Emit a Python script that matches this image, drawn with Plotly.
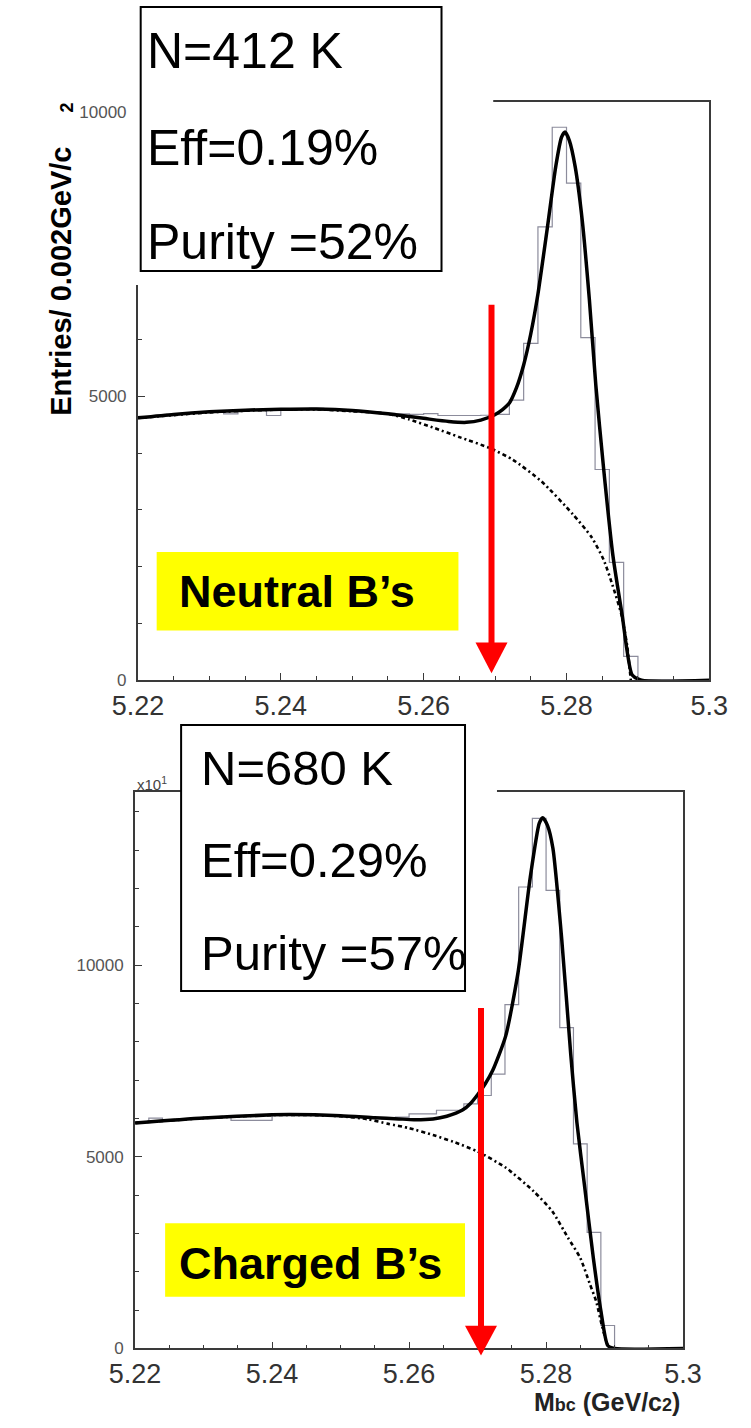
import plotly.graph_objects as go

# ---------------------------------------------------------------- data
# Mbc bin edges (GeV/c^2), 2 MeV bins
MBC_BIN_EDGES = [5.220, 5.222, 5.224, 5.226, 5.228, 5.230, 5.232, 5.234, 5.236, 5.238,
                 5.240, 5.242, 5.244, 5.246, 5.248, 5.250, 5.252, 5.254, 5.256, 5.258,
                 5.260, 5.262, 5.264, 5.266, 5.268, 5.270, 5.272, 5.274, 5.276, 5.278,
                 5.280, 5.282, 5.284, 5.286, 5.288, 5.290, 5.292, 5.294, 5.296, 5.298,
                 5.300]

# entries per bin
NEUTRAL_COUNTS = [4640, 4660, 4680, 4700, 4710, 4730, 4690, 4740, 4750, 4660,
                  4770, 4780, 4785, 4770, 4760, 4740, 4720, 4700, 4690, 4680,
                  4695, 4660, 4660, 4660, 4665, 4680, 4930, 5930, 7980, 9735,
                  8750, 6030, 3710, 2075, 420, 0, 0, 0, 0, 0]
CHARGED_COUNTS = [5900, 6010, 5960, 5990, 6010, 6030, 6050, 5950, 5950, 5950,
                  6090, 6100, 6100, 6090, 6080, 6050, 6030, 6010, 5990, 6035,
                  6120, 6120, 6215, 6215, 6380, 6600, 7160, 8970, 12040, 13830,
                  11950, 8370, 5340, 3030, 600, 0, 0, 0, 0, 0]

# fitted total (signal + background) and background (ARGUS) curves
NEUTRAL_FIT_X = [5.2200, 5.2250, 5.2300, 5.2350, 5.2400, 5.2450, 5.2500, 5.2550, 5.2600,
                 5.2635, 5.2660, 5.2680, 5.2699, 5.2710, 5.2720, 5.2730, 5.2740, 5.2750,
                 5.2760, 5.2773, 5.2785, 5.2793, 5.2798, 5.2804, 5.2812, 5.2822, 5.2832,
                 5.2841, 5.2852, 5.2865, 5.2878, 5.2892, 5.2905, 5.3000]
NEUTRAL_FIT_Y = [4620, 4680, 4725, 4755, 4770, 4775, 4750, 4690, 4610,
                 4555, 4540, 4580, 4670, 4760, 4880, 5150, 5550, 6100,
                 6800, 7950, 9050, 9560, 9650, 9500, 9050, 8100, 6700,
                 5200, 3720, 2190, 1140, 90, 0, 0]
NEUTRAL_BKG_X = [5.2200, 5.2300, 5.2400, 5.2450, 5.2500, 5.2550, 5.2580, 5.2615, 5.2650,
                 5.2694, 5.2725, 5.2765, 5.2809, 5.2835, 5.2852, 5.2865, 5.2877, 5.2885,
                 5.2890]
NEUTRAL_BKG_Y = [4615, 4715, 4765, 4768, 4735, 4690, 4590, 4440, 4280,
                 4080, 3880, 3500, 2920, 2520, 2120, 1650, 1150, 600,
                 0]

CHARGED_FIT_X = [5.2200, 5.2300, 5.2400, 5.2425, 5.2500, 5.2550, 5.2585, 5.2607, 5.2635,
                 5.2655, 5.2678, 5.2690, 5.2700, 5.2711, 5.2722, 5.2741, 5.2759, 5.2777,
                 5.2790, 5.2795, 5.2802, 5.2810, 5.2823, 5.2836, 5.2845, 5.2856, 5.2869,
                 5.2880, 5.2890, 5.2900, 5.3000]
CHARGED_FIT_Y = [5885, 6015, 6095, 6104, 6075, 6020, 5990, 5970, 5990,
                 6060, 6220, 6400, 6620, 6900, 7250, 8150, 9800, 12300,
                 13700, 13850, 13650, 13050, 10650, 7680, 5900, 4270, 2365,
                 984, 78, 0, 0]
CHARGED_BKG_X = [5.2200, 5.2300, 5.2400, 5.2450, 5.2500, 5.2540, 5.2570, 5.2600, 5.2635,
                 5.2665, 5.2700, 5.2741, 5.2782, 5.2809, 5.2832, 5.2850, 5.2864, 5.2873,
                 5.2882, 5.2889, 5.2893]
CHARGED_BKG_Y = [5885, 6010, 6090, 6095, 6060, 5980, 5860, 5750, 5570,
                 5390, 5140, 4720, 4100, 3580, 2890, 2360, 1680, 1240,
                 560, 130, 0]

# Mbc selection cut marked by the red arrows
CUT_NEUTRAL = 5.2695
CUT_CHARGED = 5.2705

NEUTRAL_INFO = ["N=412 K", "Eff=0.19%", "Purity =52%"]
CHARGED_INFO = ["N=680 K", "Eff=0.29%", "Purity =57%"]

# ---------------------------------------------------------------- layout helpers
W, H = 751, 1428
FONT = "Liberation Sans, Arial, sans-serif"
AXIS_COLOR = "#3a3a3a"
HIST_COLOR = "#8c8c9c"


def px(x):
    return x / W


def py(y):
    return 1 - y / H


def step_xy(edges, counts):
    return edges, list(counts) + [counts[-1]]


fig = go.Figure()

panels = [
    ("x", "y", NEUTRAL_COUNTS, NEUTRAL_FIT_X, NEUTRAL_FIT_Y, NEUTRAL_BKG_X, NEUTRAL_BKG_Y),
    ("x2", "y2", CHARGED_COUNTS, CHARGED_FIT_X, CHARGED_FIT_Y, CHARGED_BKG_X, CHARGED_BKG_Y),
]
for xa, ya, counts, fx, fy, bx, by in panels:
    hx, hy = step_xy(MBC_BIN_EDGES, counts)
    fig.add_trace(go.Scatter(x=hx, y=hy, mode="lines", line=dict(color=HIST_COLOR, width=1.2, shape="hv"),
                             xaxis=xa, yaxis=ya, showlegend=False, hoverinfo="skip"))
    fig.add_trace(go.Scatter(x=bx, y=by, mode="lines",
                             line=dict(color="black", width=2.6, dash="4px,3px,2px,3px",
                                       shape="spline", smoothing=0.6),
                             xaxis=xa, yaxis=ya, showlegend=False, hoverinfo="skip"))
    fig.add_trace(go.Scatter(x=fx, y=fy, mode="lines",
                             line=dict(color="black", width=3.5, shape="spline", smoothing=0.6),
                             xaxis=xa, yaxis=ya, showlegend=False, hoverinfo="skip"))

common_x = dict(range=[5.21999, 5.30001], tick0=5.22, dtick=0.02, tickformat=".2f",
                labelalias={"5.30": "5.3"}, ticks="inside", ticklen=7, tickwidth=1,
                tickcolor=AXIS_COLOR, showline=True, linecolor=AXIS_COLOR, linewidth=1.8,
                mirror=True, showgrid=False, zeroline=False,
                tickfont=dict(family=FONT, size=27, color="#333333"),
                minor=dict(tick0=5.22, dtick=0.005, ticks="inside", ticklen=4,
                           tickcolor=AXIS_COLOR, tickwidth=1))
common_y = dict(tick0=0, dtick=5000, tickformat="d", ticks="inside", ticklen=7, tickwidth=1,
                tickcolor=AXIS_COLOR, showline=True, linecolor=AXIS_COLOR, linewidth=1.8,
                mirror=True, showgrid=False, zeroline=False, ticklabelstandoff=6,
                tickfont=dict(family=FONT, size=17, color="#555555"),
                minor=dict(tick0=0, dtick=1000, ticks="inside", ticklen=4,
                           tickcolor=AXIS_COLOR, tickwidth=1))

fig.update_layout(
    width=W, height=H, autosize=False,
    margin=dict(l=0, r=0, t=0, b=0),
    paper_bgcolor="white", plot_bgcolor="white",
    xaxis=dict(domain=[px(119), px(727)], anchor="y", **common_x),
    yaxis=dict(domain=[py(685), py(103)], anchor="x", range=[0, 10175], **common_y),
    xaxis2=dict(domain=[px(116), px(699)], anchor="y2", **common_x),
    yaxis2=dict(domain=[py(1358), py(798)], anchor="x2", range=[0, 14508], **common_y),
)

shapes = []
# statistics boxes (white, covering the frame corner)
shapes.append(dict(type="rect", xref="paper", yref="paper", x0=px(117), x1=px(497),
                   y0=py(287), y1=py(0), fillcolor="white", line=dict(width=0), layer="above"))
shapes.append(dict(type="rect", xref="paper", yref="paper", x0=px(122), x1=px(442),
                   y0=py(273), y1=py(7), fillcolor="white", line=dict(color="black", width=2),
                   layer="above"))
shapes.append(dict(type="rect", xref="paper", yref="paper", x0=px(166), x1=px(501),
                   y0=py(1000), y1=py(728), fillcolor="white", line=dict(width=0), layer="above"))
shapes.append(dict(type="rect", xref="paper", yref="paper", x0=px(165), x1=px(467),
                   y0=py(998), y1=py(730), fillcolor="white", line=dict(color="black", width=2),
                   layer="above"))
# yellow sample labels
shapes.append(dict(type="rect", xref="paper", yref="paper", x0=px(139), x1=px(460),
                   y0=py(635), y1=py(556), fillcolor="#ffff00", line=dict(width=0), layer="above"))
shapes.append(dict(type="rect", xref="paper", yref="paper", x0=px(148), x1=px(467),
                   y0=py(1306), y1=py(1232), fillcolor="#ffff00", line=dict(width=0), layer="above"))

# red cut arrows
for xa, cut, top, head_top, tip in [("x", CUT_NEUTRAL, 307, 647, 678),
                                    ("x2", CUT_CHARGED, 1015, 1335, 1365)]:
    shapes.append(dict(type="line", xref=xa, yref="paper", xsizemode="pixel", xanchor=cut,
                       x0=0, x1=0, y0=py(top), y1=py(head_top + 2),
                       line=dict(color="#ff0000", width=6), layer="above"))
    shapes.append(dict(type="path", xref=xa, yref="paper", xsizemode="pixel", xanchor=cut,
                       path=f"M-16,{py(head_top)} L16,{py(head_top)} L0,{py(tip)} Z",
                       fillcolor="#ff0000", line=dict(width=0), layer="above"))
fig.update_layout(shapes=shapes)

ann = []
for lines, x0, ys, size in [(NEUTRAL_INFO, 127, [51, 149, 244], 50),
                            (CHARGED_INFO, 184, [773, 866, 960], 49)]:
    for txt, yy in zip(lines, ys):
        ann.append(dict(text=txt, xref="paper", yref="paper", x=px(x0), y=py(yy),
                        xanchor="left", yanchor="middle", showarrow=False,
                        font=dict(family=FONT, size=size, color="black")))

ann.append(dict(text="<b>Neutral B’s</b>", xref="paper", yref="paper", x=px(288), y=py(596),
                xanchor="center", yanchor="middle", showarrow=False,
                font=dict(family=FONT, size=45, color="black")))
ann.append(dict(text="<b>Charged B’s</b>", xref="paper", yref="paper", x=px(303), y=py(1272),
                xanchor="center", yanchor="middle", showarrow=False,
                font=dict(family=FONT, size=45, color="black")))

# axis titles
ann.append(dict(text="<b>Entries/ 0.002GeV/c</b>", xref="paper", yref="paper", x=px(37), y=py(283),
                xanchor="center", yanchor="middle", textangle=-90, showarrow=False,
                font=dict(family=FONT, size=29, color="black")))
ann.append(dict(text="<b>2</b>", xref="paper", yref="paper", x=px(44), y=py(108),
                xanchor="center", yanchor="middle", textangle=-90, showarrow=False,
                font=dict(family=FONT, size=18, color="black")))
ann.append(dict(text="x10<sup>1</sup>", xref="paper", yref="paper", x=px(116), y=py(789),
                xanchor="left", yanchor="middle", showarrow=False,
                font=dict(family=FONT, size=15, color="#444444")))
ann.append(dict(text="<b>M<span style='font-size:18px'>bc</span> (GeV/c<span style='font-size:18px'>2</span>)</b>",
                xref="paper", yref="paper", x=px(698), y=py(1428),
                xanchor="right", yanchor="bottom", showarrow=False,
                font=dict(family=FONT, size=25, color="#222222")))
fig.update_layout(annotations=ann)

fig.write_html("out.html")
